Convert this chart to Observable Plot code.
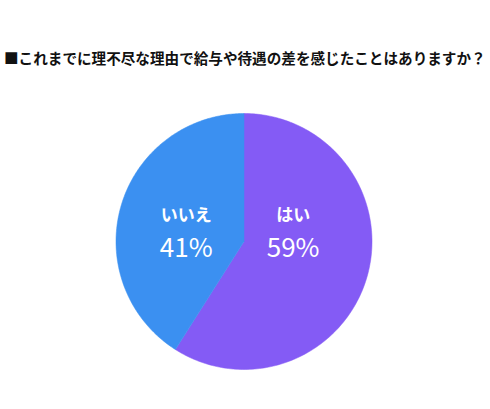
<!DOCTYPE html>
<html><head><meta charset="utf-8">
<script src="https://cdn.jsdelivr.net/npm/d3@7"></script>
<script src="https://cdn.jsdelivr.net/npm/@observablehq/plot@0.6"></script>
<style>
body{margin:0;background:#fff;width:490px;height:409px;overflow:hidden;}
#title{position:absolute;left:4px;top:48px;font-family:"Noto Sans CJK JP";font-weight:700;font-size:14.6px;line-height:20px;color:#111;white-space:nowrap;}
#chart{position:absolute;left:0;top:80px;}
</style></head>
<body>
<div id="title">■これまでに理不尽な理由で給与や待遇の差を感じたことはありますか？</div>
<div id="chart"></div>
<script>
const categories = ["はい", "いいえ"];
const values = [59, 41];
const pctLabels = ["59%", "41%"];
const colors = ["#845bf5", "#3b90f1"];

const pie = d3.pie().sort(null).value(d => d.value)(categories.map((c, i) => ({name: c, value: values[i], pct: pctLabels[i]})));
const pts = [];
for (const s of pie) {
  const n = 200;
  pts.push({name: s.data.name, x: 0, y: 0});
  for (let k = 0; k <= n; k++) {
    const a = s.startAngle + (s.endAngle - s.startAngle) * k / n;
    pts.push({name: s.data.name, x: Math.sin(a), y: Math.cos(a)});
  }
  pts.push({name: s.data.name, x: 0, y: 0});
}
const labels = pie.map(s => {
  const mid = (s.startAngle + s.endAngle) / 2;
  const r = s.data.name === "はい" ? 0.4 : 0.47;
  return {name: s.data.name, pct: s.data.pct, x: r * Math.sin(mid)};
});

const plot = Plot.plot({
  width: 490, height: 329,
  margin: 0,
  x: {domain: [-1, 1], range: [115.5, 371.5], axis: null},
  y: {domain: [-1, 1], range: [289, 33], axis: null},
  color: {domain: categories, range: colors},
  marks: [
    Plot.line(pts, {x: "x", y: "y", z: "name", fill: "name", stroke: "name", strokeWidth: 0.5, curve: "linear"}),
    Plot.text(labels, {x: "x", y: () => 0.2, text: "name", fill: "white", fontSize: 17, fontWeight: 700, fontFamily: "Noto Sans CJK JP"}),
    Plot.text(labels, {x: "x", y: () => -0.055, text: "pct", fill: "white", fontSize: 26, fontWeight: 400, fontFamily: "Noto Sans CJK JP"})
  ]
});
document.getElementById("chart").appendChild(plot);
</script>
</body></html>
